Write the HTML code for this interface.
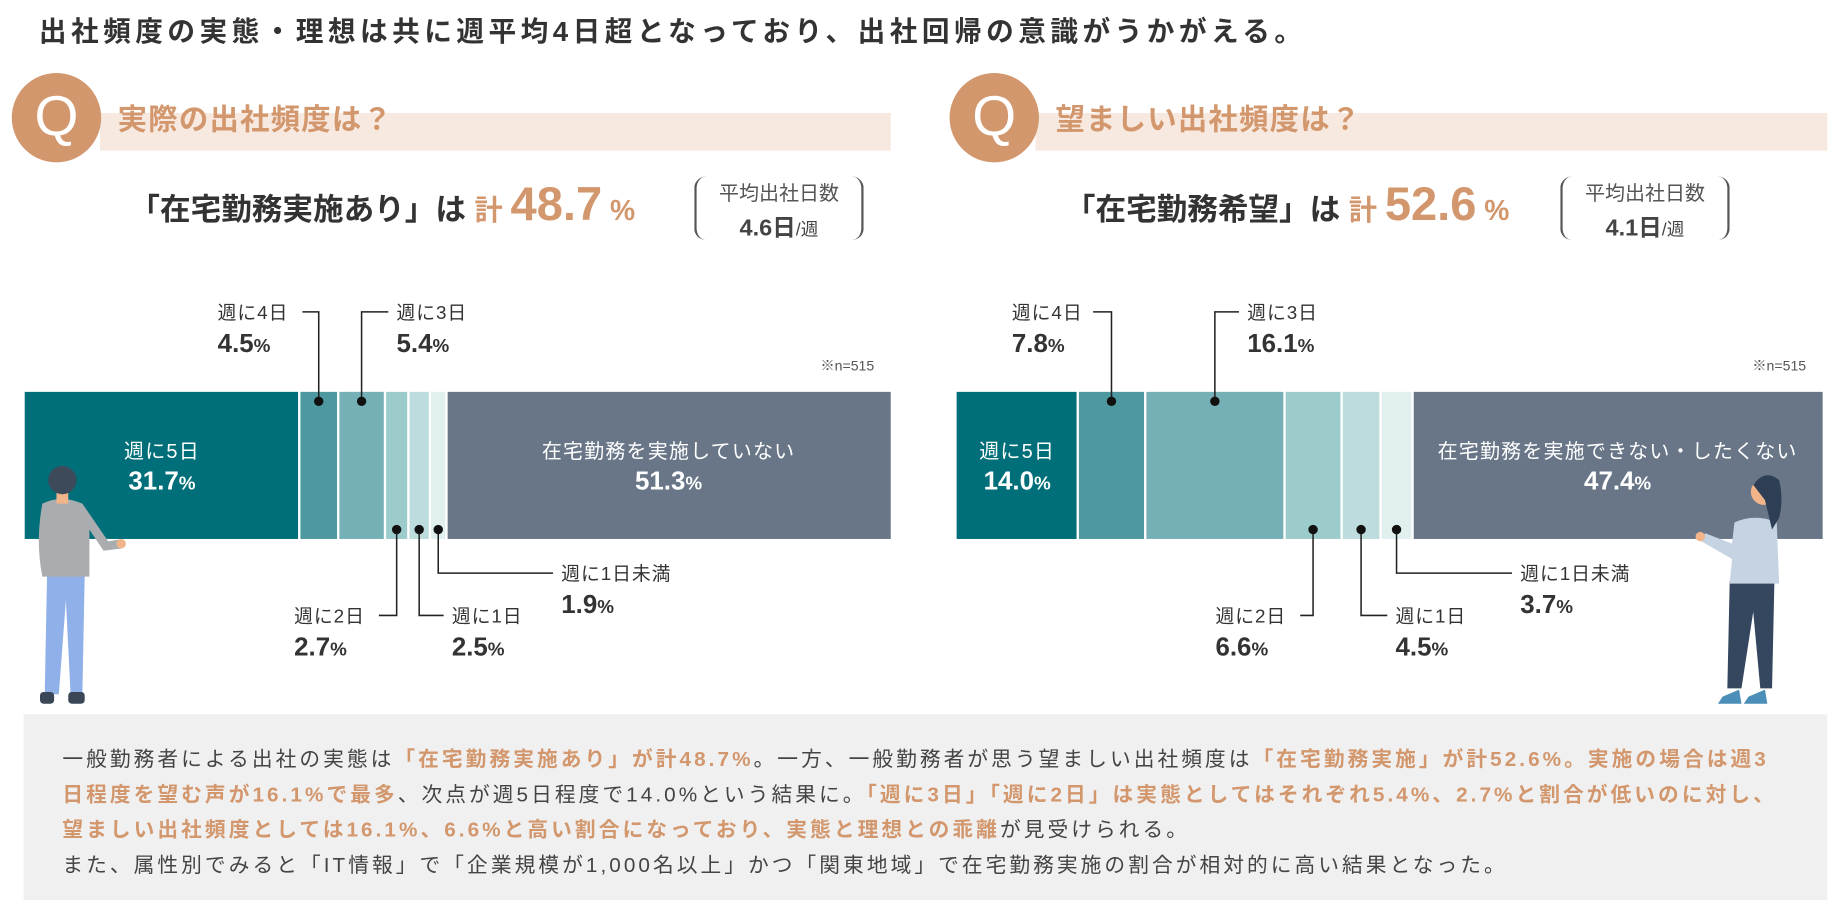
<!DOCTYPE html>
<html><head><meta charset="utf-8">
<style>
html,body{margin:0;padding:0;background:#fff;overflow:hidden;}
#wrap{width:1568px;height:775px;position:relative;transform-origin:0 0;transform:scale(1.17666,1.17677);font-family:"Liberation Sans","Noto Sans CJK JP",sans-serif;color:#333;}
.abs{position:absolute;white-space:nowrap;}
.or{color:#d3976d;}
.note p{margin:0;height:30px;line-height:30px;font-size:17.6px;letter-spacing:2.6px;color:#444;white-space:nowrap;}
.note b{color:#d3976d;}
</style></head><body>
<div id="wrap">
<div class="abs" style="left:33px;top:8px;font-size:23.5px;letter-spacing:3.8px;font-weight:bold;color:#333;">出社頻度の実態・理想は共に週平均4日超となっており、出社回帰の意識がうかがえる。</div>

<div class="abs" style="left:85px;top:96px;width:672px;height:32px;background:#f7e9df;"></div>
<div class="abs" style="left:10px;top:62px;width:76px;height:76px;border-radius:50%;background:#d3976d;color:#fff;font-size:48px;line-height:76px;text-align:center;">Q</div>
<div class="abs or" style="left:100px;top:82px;font-size:25px;letter-spacing:1px;font-weight:bold;">実際の出社頻度は？</div>
<div class="abs" style="left:110px;top:152px;font-weight:bold;"><span style="font-size:26px;">「在宅勤務実施あり」は </span><span class="or" style="font-size:24px;">計 </span><span class="or" style="font-size:40px;">48.7</span><span class="or" style="font-size:24px;"> %</span></div>
<div class="abs" style="left:590px;top:150px;width:140px;height:54px;border-left:2px solid #555;border-right:2px solid #555;border-radius:10px;text-align:center;">
<div style="font-size:17px;color:#555;">平均出社日数</div>
<div style="font-size:20px;font-weight:bold;color:#444;margin-top:2px;">4.6日<span style="font-size:15px;font-weight:normal;">/週</span></div></div>

<div class="abs" style="left:880px;top:96px;width:673px;height:32px;background:#f7e9df;"></div>
<div class="abs" style="left:807px;top:62px;width:76px;height:76px;border-radius:50%;background:#d3976d;color:#fff;font-size:48px;line-height:76px;text-align:center;">Q</div>
<div class="abs or" style="left:897px;top:82px;font-size:25px;letter-spacing:1px;font-weight:bold;">望ましい出社頻度は？</div>
<div class="abs" style="left:905px;top:152px;font-weight:bold;"><span style="font-size:26px;">「在宅勤務希望」は </span><span class="or" style="font-size:24px;">計 </span><span class="or" style="font-size:40px;">52.6</span><span class="or" style="font-size:24px;"> %</span></div>
<div class="abs" style="left:1326px;top:150px;width:140px;height:54px;border-left:2px solid #555;border-right:2px solid #555;border-radius:10px;text-align:center;">
<div style="font-size:17px;color:#555;">平均出社日数</div>
<div style="font-size:20px;font-weight:bold;color:#444;margin-top:2px;">4.1日<span style="font-size:15px;font-weight:normal;">/週</span></div></div>

<svg id="charts" class="abs" style="left:0;top:0;" width="1568" height="775"></svg>

<div class="abs note" style="left:20px;top:607px;width:1533px;height:158px;background:#f0f0f0;padding:23px 0 0 33px;box-sizing:border-box;">
<p>一般勤務者による出社の実態は<b>「在宅勤務実施あり」が計48.7%</b>。一方、一般勤務者が思う望ましい出社頻度は<b>「在宅勤務実施」が計52.6%。実施の場合は週3</b></p>
<p><b>日程度を望む声が16.1%で最多</b>、次点が週5日程度で14.0%という結果に。<b>「週に3日」「週に2日」は実態としてはそれぞれ5.4%、2.7%と割合が低いのに対し、</b></p>
<p><b>望ましい出社頻度としては16.1%、6.6%と高い割合になっており、実態と理想との乖離</b>が見受けられる。</p>
<p>また、属性別でみると「IT情報」で「企業規模が1,000名以上」かつ「関東地域」で在宅勤務実施の割合が相対的に高い結果となった。</p>
</div>
</div>
<script>
const categories=["週に5日","週に4日","週に3日","週に2日","週に1日","週に1日未満"];
const actualValues=[31.7,4.5,5.4,2.7,2.5,1.9,51.3];
const desiredValues=[14.0,7.8,16.1,6.6,4.5,3.7,47.4];
const actualNoneLabel="在宅勤務を実施していない";
const desiredNoneLabel="在宅勤務を実施できない・したくない";
const sampleLabel="※n=515";

const colors=["#006f79","#4d999f","#74b0b5","#9ccbcc","#bcdcdd","#e1efef","#687688"];
const svg=document.getElementById('charts');
const NS="http://www.w3.org/2000/svg";
function mk(tag,attrs,parent){const e=document.createElementNS(NS,tag);for(const k in attrs)e.setAttribute(k,attrs[k]);(parent||svg).appendChild(e);return e;}

const leftLayout=[[185,257,265,1],[337,330,265,1],[250,322,523,0],[384,377,523,0],[477,470,487,0]];
const rightLayout=[[860,929,265,1],[1060,1053,265,1],[1033,1105,523,0],[1186,1179,523,0],[1292,1285,487,0]];

function drawChart(values,x0,width,layout,noneLabel,prefix){
  const g=mk('g',{});
  
  
  const y0=333,h=125;
  const total=values.reduce((a,b)=>a+b,0);
  const sx=v=>v/total*width;
  let acc=0;const centers=[];
  values.forEach((v,i)=>{
    const x=x0+sx(acc),w=sx(v);
    const r=mk('rect',{x:x+(i?1:0),y:y0,width:Math.max(w-(i?1:0)-(i<values.length-1?1:0),0.5),height:h,fill:colors[i]},g);
    
    
    centers.push(x+w/2);acc+=v;
  });
  const fmt=v=>v.toFixed(1);
  function inLabel(cx,t1,v,name){
    const a=mk('text',{x:cx,y:y0+56,'text-anchor':'middle','font-size':17,'letter-spacing':1,fill:'#fff'},g);a.textContent=t1;
    
    
    const b=mk('text',{x:cx,y:y0+83,'text-anchor':'middle','font-size':22,'font-weight':'bold',fill:'#fff'},g);
    b.innerHTML=fmt(v)+'<tspan font-size="16">%</tspan>';
    
    
  }
  inLabel(centers[0],categories[0],values[0],prefix+'-seg1');
  inLabel(centers[6],noneLabel,values[6],prefix+'-none');
  const n=mk('text',{x:x0+width-14,y:315,'text-anchor':'end','font-size':12,fill:'#555'},g);n.textContent=sampleLabel;
  
  
  for(let i=1;i<=5;i++){
    const [lx,ex,ly,above]=layout[i-1];
    const cx=centers[i];
    const dy=above?y0+8:y0+h-8;
    const ry=ly;
    const p=mk('polyline',{points:`${cx},${dy} ${cx},${ry} ${ex},${ry}`,fill:'none',stroke:'#222','stroke-width':1.3},g);
    
    
    const d=mk('circle',{cx:cx,cy:dy,r:4,fill:'#111'},g);
    
    
    const t=mk('text',{x:lx,y:ly+6,'font-size':16,'letter-spacing':0.8,fill:'#333'},g);t.textContent=categories[i];
    
    
    const vv=mk('text',{x:lx,y:ly+34,'font-size':22,'font-weight':'bold',fill:'#333'},g);
    vv.innerHTML=fmt(values[i])+'<tspan font-size="16">%</tspan>';
    
    
  }
}
drawChart(actualValues,21,736,leftLayout,actualNoneLabel,'actual');
drawChart(desiredValues,813,736,rightLayout,desiredNoneLabel,'desired');

const man=mk('g',{});


mk('path',{d:'M40,488 L72,488 L70,590 L60,590 L56,510 L50,590 L38,590 Z',fill:'#8fb0e8'},man);
mk('rect',{x:34,y:588,width:12,height:10,rx:3,fill:'#3b4656'},man);
mk('rect',{x:58,y:588,width:14,height:10,rx:3,fill:'#3b4656'},man);
mk('path',{d:'M36,428 Q52,420 70,428 L92,460 L104,458 L104,466 L88,468 L76,450 L76,490 L36,490 Q30,460 36,428 Z',fill:'#a9adb0'},man);
mk('circle',{cx:103,cy:462,r:4,fill:'#f2b58a'},man);
mk('rect',{x:48,y:418,width:10,height:10,fill:'#f2b58a'},man);
mk('circle',{cx:53,cy:408,r:12,fill:'#3d4a5a'},man);
const woman=mk('g',{});


mk('path',{d:'M1470,494 L1508,494 L1506,585 L1496,585 L1490,520 L1480,585 L1468,585 Z',fill:'#34475e'},woman);
mk('path',{d:'M1464,592 L1478,586 L1480,598 L1460,598 Z',fill:'#4b8fb8'},woman);
mk('path',{d:'M1486,592 L1500,586 L1502,598 L1482,598 Z',fill:'#4b8fb8'},woman);
mk('path',{d:'M1474,444 Q1492,436 1510,444 L1512,496 L1470,496 L1472,475 L1446,460 L1449,453 L1472,462 Z',fill:'#c5d3e3'},woman);
mk('circle',{cx:1445,cy:456,r:4,fill:'#f2b58a'},woman);
mk('circle',{cx:1499,cy:418,r:11,fill:'#f2b58a'},woman);
mk('path',{d:'M1490,412 Q1500,398 1512,408 Q1516,425 1512,440 L1506,450 L1500,425 Z',fill:'#2e3e55'},woman);
</script>
</body></html>
